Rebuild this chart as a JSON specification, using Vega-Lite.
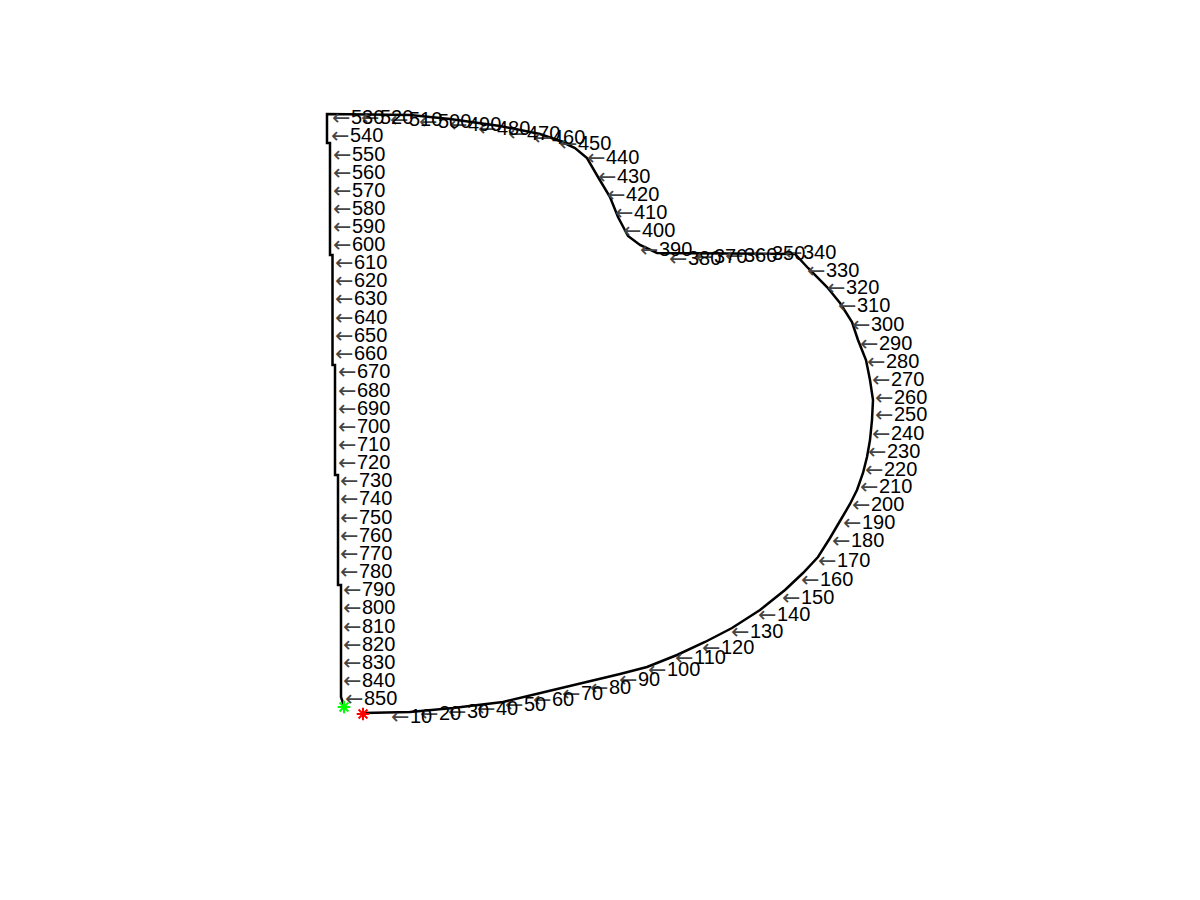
{
  "$schema": "https://vega.github.io/schema/vega-lite/v6.json",
  "width": 1200,
  "height": 900,
  "autosize": {"type": "fit", "contains": "padding"},
  "padding": 0,
  "background": "white",
  "config": {"view": {"stroke": null}},
  "datasets": {
    "path": [
      {"i": 1, "x": 363, "y": 713}, {"i": 2, "x": 410, "y": 712}, {"i": 3, "x": 453, "y": 708},
      {"i": 4, "x": 503, "y": 702}, {"i": 5, "x": 553, "y": 690}, {"i": 6, "x": 620, "y": 674},
      {"i": 7, "x": 647, "y": 667}, {"i": 8, "x": 677, "y": 655}, {"i": 9, "x": 705, "y": 642},
      {"i": 10, "x": 732, "y": 628}, {"i": 11, "x": 760, "y": 610}, {"i": 12, "x": 785, "y": 590},
      {"i": 13, "x": 803, "y": 573}, {"i": 14, "x": 818, "y": 557}, {"i": 15, "x": 830, "y": 538},
      {"i": 16, "x": 840, "y": 521}, {"i": 17, "x": 850, "y": 504}, {"i": 18, "x": 857, "y": 490},
      {"i": 19, "x": 863, "y": 473}, {"i": 20, "x": 867, "y": 457}, {"i": 21, "x": 870, "y": 440},
      {"i": 22, "x": 872, "y": 420}, {"i": 23, "x": 873, "y": 400}, {"i": 24, "x": 870, "y": 380},
      {"i": 25, "x": 866, "y": 360}, {"i": 26, "x": 858, "y": 340}, {"i": 27, "x": 852, "y": 322},
      {"i": 28, "x": 840, "y": 303}, {"i": 29, "x": 827, "y": 287}, {"i": 30, "x": 808, "y": 268},
      {"i": 31, "x": 795, "y": 254}, {"i": 32, "x": 657, "y": 253}, {"i": 33, "x": 640, "y": 245},
      {"i": 34, "x": 628, "y": 236}, {"i": 35, "x": 618, "y": 217}, {"i": 36, "x": 610, "y": 197},
      {"i": 37, "x": 598, "y": 177}, {"i": 38, "x": 587, "y": 158}, {"i": 39, "x": 575, "y": 148},
      {"i": 40, "x": 560, "y": 141}, {"i": 41, "x": 540, "y": 134}, {"i": 42, "x": 500, "y": 126},
      {"i": 43, "x": 450, "y": 119}, {"i": 44, "x": 410, "y": 115}, {"i": 45, "x": 327, "y": 114},
      {"i": 46, "x": 327, "y": 143}, {"i": 47, "x": 330, "y": 143}, {"i": 48, "x": 330, "y": 255},
      {"i": 49, "x": 332.5, "y": 255}, {"i": 50, "x": 332.5, "y": 365}, {"i": 51, "x": 335, "y": 365},
      {"i": 52, "x": 335, "y": 475}, {"i": 53, "x": 338, "y": 475}, {"i": 54, "x": 338, "y": 585},
      {"i": 55, "x": 341, "y": 585}, {"i": 56, "x": 341, "y": 697}, {"i": 57, "x": 344, "y": 706}
    ],
    "labels": [
      {"n": "10", "x": 391, "y": 716}, {"n": "20", "x": 420, "y": 713}, {"n": "30", "x": 448, "y": 711},
      {"n": "40", "x": 477, "y": 708}, {"n": "50", "x": 505, "y": 704}, {"n": "60", "x": 533, "y": 699},
      {"n": "70", "x": 562, "y": 693}, {"n": "80", "x": 590, "y": 687}, {"n": "90", "x": 619, "y": 679},
      {"n": "100", "x": 648, "y": 669}, {"n": "110", "x": 675, "y": 657}, {"n": "120", "x": 702, "y": 647},
      {"n": "130", "x": 731, "y": 631}, {"n": "140", "x": 758, "y": 614}, {"n": "150", "x": 782, "y": 597},
      {"n": "160", "x": 801, "y": 579}, {"n": "170", "x": 818, "y": 560}, {"n": "180", "x": 832, "y": 540},
      {"n": "190", "x": 843, "y": 522}, {"n": "200", "x": 852, "y": 504}, {"n": "210", "x": 860, "y": 486},
      {"n": "220", "x": 865, "y": 469}, {"n": "230", "x": 868, "y": 451}, {"n": "240", "x": 872, "y": 433},
      {"n": "250", "x": 875, "y": 414}, {"n": "260", "x": 875, "y": 397}, {"n": "270", "x": 872, "y": 379},
      {"n": "280", "x": 867, "y": 361}, {"n": "290", "x": 860, "y": 343}, {"n": "300", "x": 852, "y": 324},
      {"n": "310", "x": 838, "y": 305}, {"n": "320", "x": 827, "y": 287}, {"n": "330", "x": 807, "y": 270},
      {"n": "340", "x": 784, "y": 252}, {"n": "350", "x": 753, "y": 253}, {"n": "360", "x": 725, "y": 255},
      {"n": "370", "x": 695, "y": 256}, {"n": "380", "x": 669, "y": 258}, {"n": "390", "x": 640, "y": 249},
      {"n": "400", "x": 623, "y": 230}, {"n": "410", "x": 615, "y": 212}, {"n": "420", "x": 607, "y": 194},
      {"n": "430", "x": 598, "y": 176}, {"n": "440", "x": 587, "y": 157}, {"n": "450", "x": 559, "y": 143},
      {"n": "460", "x": 533, "y": 137}, {"n": "470", "x": 508, "y": 133}, {"n": "480", "x": 478, "y": 128},
      {"n": "490", "x": 449, "y": 124}, {"n": "500", "x": 419, "y": 121}, {"n": "510", "x": 390, "y": 119},
      {"n": "520", "x": 361, "y": 117}, {"n": "530", "x": 332, "y": 117}, {"n": "540", "x": 331, "y": 135},
      {"n": "550", "x": 333, "y": 154}, {"n": "560", "x": 333, "y": 172}, {"n": "570", "x": 333, "y": 190},
      {"n": "580", "x": 333, "y": 208}, {"n": "590", "x": 333, "y": 226}, {"n": "600", "x": 333, "y": 244},
      {"n": "610", "x": 335, "y": 262}, {"n": "620", "x": 335, "y": 280}, {"n": "630", "x": 335, "y": 298},
      {"n": "640", "x": 335, "y": 317}, {"n": "650", "x": 335, "y": 335}, {"n": "660", "x": 335, "y": 353},
      {"n": "670", "x": 338, "y": 371}, {"n": "680", "x": 338, "y": 390}, {"n": "690", "x": 338, "y": 408},
      {"n": "700", "x": 338, "y": 426}, {"n": "710", "x": 338, "y": 444}, {"n": "720", "x": 338, "y": 462},
      {"n": "730", "x": 340, "y": 480}, {"n": "740", "x": 340, "y": 498}, {"n": "750", "x": 340, "y": 517},
      {"n": "760", "x": 340, "y": 535}, {"n": "770", "x": 340, "y": 553}, {"n": "780", "x": 340, "y": 571},
      {"n": "790", "x": 343, "y": 589}, {"n": "800", "x": 343, "y": 607}, {"n": "810", "x": 343, "y": 626},
      {"n": "820", "x": 343, "y": 644}, {"n": "830", "x": 343, "y": 662}, {"n": "840", "x": 343, "y": 680},
      {"n": "850", "x": 345, "y": 698}
    ],
    "ends": [
      {"c": "start", "x": 344, "y": 707},
      {"c": "end", "x": 363, "y": 714}
    ]
  },
  "encoding": {
    "x": {"field": "x", "type": "quantitative", "scale": {"domain": [0, 1200], "nice": false, "zero": false}, "axis": null},
    "y": {"field": "y", "type": "quantitative", "scale": {"domain": [0, 900], "nice": false, "zero": false, "reverse": true}, "axis": null}
  },
  "layer": [
    {
      "data": {"name": "path"},
      "mark": {"type": "line", "color": "black", "strokeWidth": 2.5, "strokeJoin": "miter"},
      "encoding": {"order": {"field": "i", "type": "quantitative"}}
    },
    {
      "data": {"name": "labels"},
      "mark": {"type": "text", "align": "left", "baseline": "middle", "font": "DejaVu Sans", "fontSize": 22, "color": "#444444", "dy": 1, "text": "←"},
      "encoding": {}
    },
    {
      "data": {"name": "labels"},
      "mark": {"type": "text", "align": "left", "baseline": "middle", "font": "Liberation Sans", "fontSize": 20, "color": "black", "dx": 19, "dy": 1},
      "encoding": {"text": {"field": "n"}}
    },
    {
      "data": {"name": "ends"},
      "mark": {"type": "point", "shape": "M-1,0L1,0M0,-1L0,1M-0.7,-0.7L0.7,0.7M-0.7,0.7L0.7,-0.7", "filled": false, "size": 160, "strokeWidth": 2, "opacity": 1},
      "encoding": {
        "color": {"field": "c", "type": "nominal", "scale": {"domain": ["start", "end"], "range": ["#00ff00", "#ff0000"]}, "legend": null}
      }
    }
  ]
}
